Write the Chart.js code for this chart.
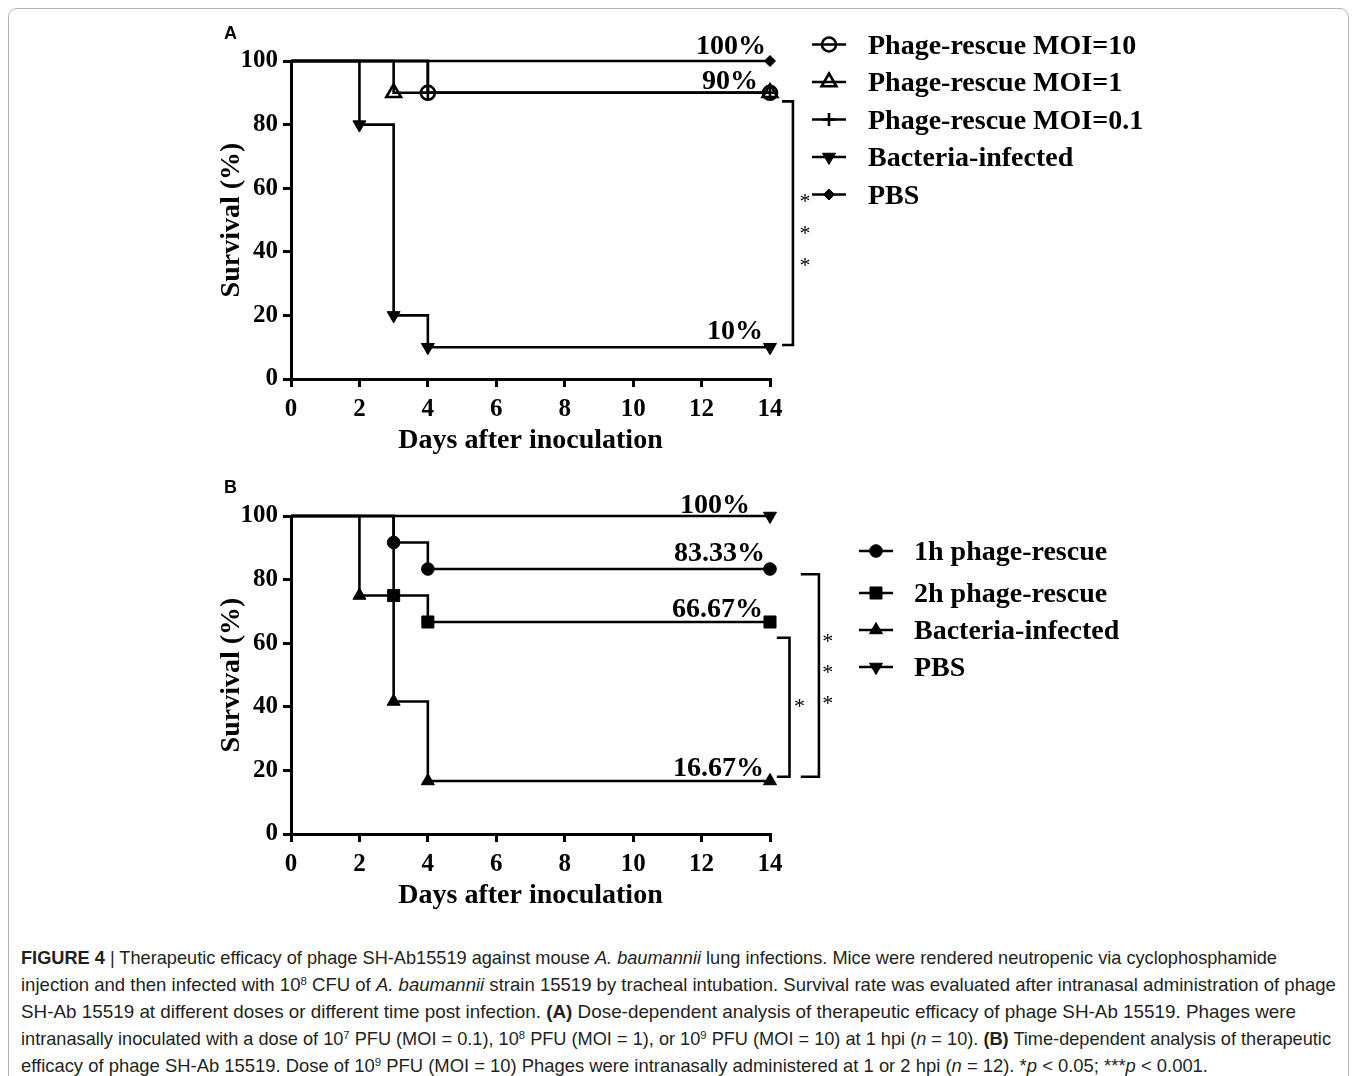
<!DOCTYPE html>
<html>
<head>
<meta charset="utf-8">
<script src="https://cdn.jsdelivr.net/npm/chart.js@4/dist/chart.umd.min.js"></script>
<style>
  html, body { margin: 0; padding: 0; background: #fff; width: 1358px; height: 1076px; overflow: hidden; }
  #frame { position: absolute; left: 8px; top: 8px; width: 1341px; height: 1100px; border: 1px solid #b5b5b5; border-radius: 9px; box-sizing: border-box; }
  .panel { position: absolute; left: 0; width: 1358px; height: 460px; }
  #panelA { top: 0; }
  #panelB { top: 455px; }
  .plabel { position: absolute; left: 224px; font: bold 18px "Liberation Sans", Arial, sans-serif; color: #000; line-height: 20px; }
  #caption { position: absolute; left: 21px; top: 944px; font-family: "Liberation Sans", Arial, sans-serif; font-size: 19px; line-height: 27px; color: #231f20; }
  #caption .ln { white-space: nowrap; width: max-content; transform-origin: 0 50%; }
  #caption sup { font-size: 0.62em; line-height: 0; vertical-align: 0.55em; }
</style>
</head>
<body>
<div id="frame"></div>
<div class="panel" id="panelA"><canvas id="chartA" width="1358" height="460"></canvas></div>
<div class="panel" id="panelB"><canvas id="chartB" width="1358" height="460"></canvas></div>
<div class="plabel" style="top:23px">A</div>
<div class="plabel" style="top:477px">B</div>
<div id="caption">
  <div class="ln"><b>FIGURE 4</b> | Therapeutic efficacy of phage SH-Ab15519 against mouse <i>A. baumannii</i> lung infections. Mice were rendered neutropenic via cyclophosphamide</div>
  <div class="ln">injection and then infected with 10<sup>8</sup> CFU of <i>A. baumannii</i> strain 15519 by tracheal intubation. Survival rate was evaluated after intranasal administration of phage</div>
  <div class="ln">SH-Ab 15519 at different doses or different time post infection. <b>(A)</b> Dose-dependent analysis of therapeutic efficacy of phage SH-Ab 15519. Phages were</div>
  <div class="ln">intranasally inoculated with a dose of 10<sup>7</sup> PFU (MOI = 0.1), 10<sup>8</sup> PFU (MOI = 1), or 10<sup>9</sup> PFU (MOI = 10) at 1 hpi (<i>n</i> = 10). <b>(B)</b> Time-dependent analysis of therapeutic</div>
  <div class="ln">efficacy of phage SH-Ab 15519. Dose of 10<sup>9</sup> PFU (MOI = 10) Phages were intranasally administered at 1 or 2 hpi (<i>n</i> = 12). *<i>p</i> &lt; 0.05; ***<i>p</i> &lt; 0.001.</div>
</div>
<script>
// ---------------- data ----------------
const xTitle = 'Days after inoculation';
const yTitle = 'Survival (%)';
const dayTicks = [0, 2, 4, 6, 8, 10, 12, 14];
const survivalTicks = [0, 20, 40, 60, 80, 100];

// Panel A (dose-dependent)
const seriesA = ['Phage-rescue MOI=10', 'Phage-rescue MOI=1', 'Phage-rescue MOI=0.1', 'Bacteria-infected', 'PBS'];
const aMoi10Day = [0, 4, 14];        const aMoi10Surv = [100, 90, 90];
const aMoi1Day  = [0, 3, 14];        const aMoi1Surv  = [100, 90, 90];
const aMoi01Day = [0, 4, 14];        const aMoi01Surv = [100, 90, 90];
const aBactDay  = [0, 2, 3, 4, 14];  const aBactSurv  = [100, 80, 20, 10, 10];
const aPbsDay   = [0, 14];           const aPbsSurv   = [100, 100];
const aEndLabels = ['100%', '90%', '10%'];
const aSignif = ['*', '*', '*'];

// Panel B (time-dependent)
const seriesB = ['1h phage-rescue', '2h phage-rescue', 'Bacteria-infected', 'PBS'];
const b1hDay   = [0, 3, 4, 14];       const b1hSurv   = [100, 91.67, 83.33, 83.33];
const b2hDay   = [0, 3, 4, 14];       const b2hSurv   = [100, 75, 66.67, 66.67];
const bBactDay = [0, 2, 3, 4, 14];    const bBactSurv = [100, 75, 41.67, 16.67, 16.67];
const bPbsDay  = [0, 14];             const bPbsSurv  = [100, 100];
const bEndLabels = ['100%', '83.33%', '66.67%', '16.67%'];
const bSignifInner = ['*'];
const bSignifOuter = ['*', '*', '*'];

// ---------------- helpers ----------------
const pts = (d, s) => d.map((v, i) => ({ x: v, y: s[i] }));
const SERIF = '"Liberation Serif", "Times New Roman", serif';
const LW = 2.6;

function makeDataset(label, data, st) {
  return {
    label, data,
    borderColor: '#000', borderWidth: LW, fill: false, stepped: true, tension: 0, clip: false,
    backgroundColor: st.filled ? '#000' : 'rgba(0,0,0,0)',
    pointStyle: st.style, pointRotation: st.rotation || 0,
    pointRadius: c => (c.dataIndex === 0 ? 0 : st.radius),
    pointHoverRadius: c => (c.dataIndex === 0 ? 0 : st.radius),
    pointBorderColor: '#000',
    pointBackgroundColor: st.filled ? '#000' : 'rgba(0,0,0,0)',
    pointBorderWidth: st.filled ? 1 : LW,
    order: st.order || 0
  };
}

function drawMarker(ctx, st, x, y) {
  ctx.save();
  ctx.fillStyle = st.filled ? '#000' : 'rgba(0,0,0,0)';
  ctx.strokeStyle = '#000';
  ctx.lineWidth = st.filled ? 1 : LW;
  if (Chart.helpers && Chart.helpers.drawPoint) {
    Chart.helpers.drawPoint(ctx, { pointStyle: st.style, rotation: st.rotation || 0, radius: st.radius, borderWidth: st.filled ? 1 : LW }, x, y);
  } else {
    ctx.beginPath(); ctx.arc(x, y, st.radius, 0, Math.PI * 2); ctx.fill(); ctx.stroke();
  }
  ctx.restore();
}

const overlay = {
  id: 'overlay',
  afterDraw(chart, args, o) {
    const { ctx } = chart;
    const X = v => chart.scales.x.getPixelForValue(v);
    const Y = v => chart.scales.y.getPixelForValue(v);
    ctx.save();
    ctx.fillStyle = '#000';
    ctx.strokeStyle = '#000';
    // end-point percentage labels
    ctx.font = 'bold 28px ' + SERIF;
    ctx.textAlign = 'right';
    ctx.textBaseline = 'alphabetic';
    o.notes.forEach(n => ctx.fillText(n.text, X(n.day) + n.dx, Y(n.surv) + n.dy));
    // significance brackets
    ctx.lineWidth = LW;
    ctx.lineJoin = 'miter';
    o.brackets.forEach(b => {
      ctx.beginPath();
      ctx.moveTo(X(b.x0), Y(b.top));
      ctx.lineTo(X(b.x1), Y(b.top));
      ctx.lineTo(X(b.x1), Y(b.bottom));
      ctx.lineTo(X(b.x0), Y(b.bottom));
      ctx.stroke();
    });
    // stars
    ctx.font = '22px ' + SERIF;
    ctx.textAlign = 'center';
    o.stars.forEach(s => s.text.forEach((t, i) => ctx.fillText(t, X(s.day), Y(s.surv[i]) + 11)));
    // legend
    const L = o.legend;
    chart.data.datasets.forEach((ds, i) => {
      const y = L.rows[i];
      ctx.lineWidth = LW;
      ctx.beginPath();
      ctx.moveTo(L.cx - L.half, y);
      ctx.lineTo(L.cx + L.half, y);
      ctx.stroke();
      drawMarker(ctx, o.styles[i], L.cx, y);
      ctx.fillStyle = '#000';
      ctx.font = 'bold 28px ' + SERIF;
      ctx.textAlign = 'left';
      ctx.fillText(ds.label, L.textX, y + 9.3);
    });
    ctx.restore();
  }
};

function baseOptions(plug) {
  const tickFont = { family: SERIF, size: 25, weight: 'bold' };
  const titleFont = { family: SERIF, size: 28, weight: 'bold' };
  const grid = { drawOnChartArea: false, drawTicks: true, tickLength: 8, tickWidth: 3, tickColor: '#000', color: '#000', lineWidth: 3 };
  return {
    responsive: false, animation: false, events: [],
    layout: { padding: { left: 200, right: 588, top: 61, bottom: 0 } },
    plugins: { legend: { display: false }, tooltip: { enabled: false }, overlay: plug },
    scales: {
      x: {
        type: 'linear', min: 0, max: 14,
        afterBuildTicks: s => { s.ticks = dayTicks.map(v => ({ value: v })); },
        afterFit: s => { s.height = 81; },
        border: { display: true, color: '#000', width: 3 },
        grid,
        ticks: { color: '#000', font: tickFont, padding: 8, maxRotation: 0, autoSkip: false },
        title: { display: true, text: xTitle, color: '#000', font: titleFont, padding: { top: 0, bottom: 2 } }
      },
      y: {
        type: 'linear', min: 0, max: 100,
        afterBuildTicks: s => { s.ticks = survivalTicks.map(v => ({ value: v })); },
        afterFit: s => { s.width = 91; },
        border: { display: true, color: '#000', width: 3 },
        grid,
        ticks: { color: '#000', font: tickFont, padding: 5, autoSkip: false },
        title: { display: true, text: yTitle, color: '#000', font: titleFont, padding: { top: 15, bottom: 0 } }
      }
    }
  };
}

// ---------------- Panel A ----------------
const stylesA = [
  { style: 'circle', radius: 7, filled: false, order: 3 },
  { style: 'triangle', radius: 8.5, filled: false, order: 2 },
  { style: 'cross', radius: 6.5, filled: false, order: 1 },
  { style: 'triangle', rotation: 180, radius: 7.5, filled: true },
  { style: 'rectRot', radius: 5.5, filled: true }
];
const dataA = [pts(aMoi10Day, aMoi10Surv), pts(aMoi1Day, aMoi1Surv), pts(aMoi01Day, aMoi01Surv), pts(aBactDay, aBactSurv), pts(aPbsDay, aPbsSurv)];
new Chart(document.getElementById('chartA'), {
  type: 'line',
  data: { datasets: seriesA.map((l, i) => makeDataset(l, dataA[i], stylesA[i])) },
  options: baseOptions({
    styles: stylesA,
    notes: [
      { text: aEndLabels[0], day: 14, surv: aPbsSurv[1], dx: -4, dy: -7 },
      { text: aEndLabels[1], day: 14, surv: aMoi10Surv[2], dx: -12, dy: -4 },
      { text: aEndLabels[2], day: 14, surv: aBactSurv[4], dx: -7, dy: -8 }
    ],
    brackets: [{ x0: 14.35, x1: 14.67, top: 87.3, bottom: 10.7 }],
    stars: [{ text: aSignif, day: 15.02, surv: [57.2, 47.2, 37.2] }],
    legend: { cx: 829, half: 17, textX: 868, rows: [44.5, 82, 119.5, 157, 194.5] }
  }),
  plugins: [overlay]
});

// ---------------- Panel B ----------------
const stylesB = [
  { style: 'circle', radius: 6.3, filled: true },
  { style: 'rect', radius: 8.5, filled: true },
  { style: 'triangle', radius: 7.5, filled: true },
  { style: 'triangle', rotation: 180, radius: 7.5, filled: true }
];
const dataB = [pts(b1hDay, b1hSurv), pts(b2hDay, b2hSurv), pts(bBactDay, bBactSurv), pts(bPbsDay, bPbsSurv)];
new Chart(document.getElementById('chartB'), {
  type: 'line',
  data: { datasets: seriesB.map((l, i) => makeDataset(l, dataB[i], stylesB[i])) },
  options: baseOptions({
    styles: stylesB,
    notes: [
      { text: bEndLabels[0], day: 14, surv: bPbsSurv[1], dx: -20, dy: -3 },
      { text: bEndLabels[1], day: 14, surv: b1hSurv[3], dx: -5, dy: -8 },
      { text: bEndLabels[2], day: 14, surv: b2hSurv[3], dx: -7, dy: -5 },
      { text: bEndLabels[3], day: 14, surv: bBactSurv[4], dx: -6, dy: -5 }
    ],
    brackets: [
      { x0: 14.2, x1: 14.57, top: 61.7, bottom: 18.0 },
      { x0: 14.9, x1: 15.43, top: 81.7, bottom: 18.0 }
    ],
    stars: [
      { text: bSignifInner, day: 14.86, surv: [41.6] },
      { text: bSignifOuter, day: 15.69, surv: [61.9, 52.2, 42.4] }
    ],
    legend: { cx: 876, half: 17, textX: 914, rows: [96, 138, 175, 212] }
  }),
  plugins: [overlay]
});

// ---------------- caption line fitting ----------------
const captionEnds = [1277, 1336, 1296, 1331, 1208];
document.querySelectorAll('#caption .ln').forEach((el, i) => {
  const w = el.getBoundingClientRect().width;
  const target = captionEnds[i] - 21;
  el.style.transform = 'scaleX(' + (target / w).toFixed(4) + ')';
});
</script>
</body>
</html>
